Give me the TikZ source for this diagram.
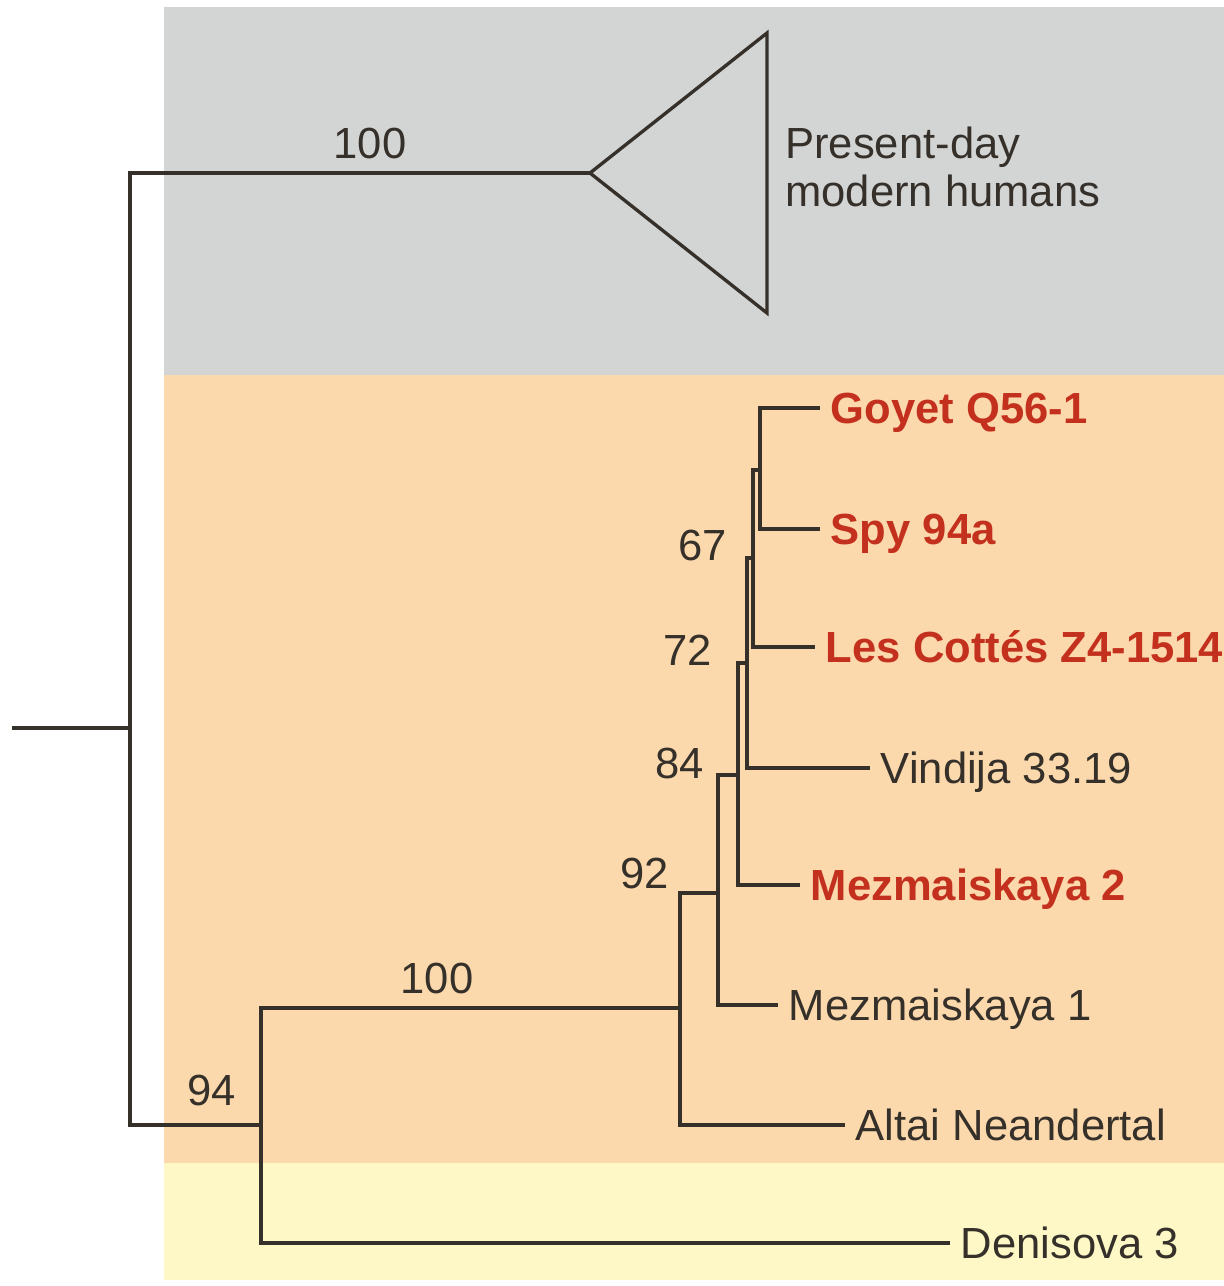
\documentclass[tikz,border=0pt]{standalone}
\usepackage{fontspec}
\setmainfont{Liberation Sans}
\usepackage{tikz}
\definecolor{humgray}{HTML}{D3D4D4}
\definecolor{neaorange}{HTML}{FCD9AC}
\definecolor{denyellow}{HTML}{FDF8C6}
\definecolor{redc}{HTML}{C4301E}
\definecolor{branchc}{HTML}{35302A}

\begin{document}
\begin{tikzpicture}[x=0.02cm, y=-0.02cm,
  branch/.style={branchc, line width=1.9pt},
  txt/.style={font=\fontsize{24.8}{27.2}\selectfont, text=branchc, inner ysep=0pt, text height=17.8pt, text depth=0pt},
  leaf/.style={txt, anchor=west, inner xsep=6pt},
  newleaf/.style={leaf, text=redc, font=\fontsize{24.8}{27.2}\selectfont\bfseries},
  boot/.style={txt, inner xsep=0pt}]
  \useasboundingbox (0,0) rectangle (1224,1286);
  % shaded groups
  \fill[humgray] (164,7) rectangle (1224,375);
  \fill[neaorange] (164,375) rectangle (1224,1163);
  \fill[denyellow] (164,1163) rectangle (1224,1280);

  % branch points
  \coordinate (stub) at (12,728);
  \coordinate (root) at (130,728);
  \coordinate (hum) at (590,173);
  \coordinate (humtop) at (767,33);
  \coordinate (humbot) at (767,313);
  \coordinate (n94) at (261,1125);
  \coordinate (n100) at (680,1008);
  \coordinate (n92) at (718,893);
  \coordinate (n84) at (738,775);
  \coordinate (n72) at (747,663);
  \coordinate (n67) at (753,558);
  \coordinate (ntop) at (760,470);

  % tips
  \node[txt, anchor=west, align=left, text height=, inner sep=0pt] (humans) at (785,167) {Present-day\\modern humans};
  \node[newleaf] (goyet) at (820,408) {Goyet Q56-1};
  \node[newleaf] (spy) at (820,529) {Spy 94a};
  \node[newleaf] (cottes) at (815,647) {Les Cottés Z4-1514};
  \node[leaf] (vindija) at (870,768) {Vindija 33.19};
  \node[newleaf] (mez2) at (800,885) {Mezmaiskaya 2};
  \node[leaf] (mez1) at (778,1005) {Mezmaiskaya 1};
  \node[leaf] (altai) at (845,1125) {Altai Neandertal};
  \node[leaf] (deni) at (950,1243) {Denisova 3};

  % bootstrap values
  \node[boot] (b100a) at (370,143) {100};
  \node[boot] (b94) at (212,1090) {94};
  \node[boot] (b100b) at (437,978) {100};
  \node[boot] (b92) at (645,873) {92};
  \node[boot] (b84) at (680,763) {84};
  \node[boot] (b72) at (688,650) {72};
  \node[boot] (b67) at (703,545) {67};

  % tree
  \draw[branch] (stub) -- (root);
  \draw[branch] (root) |- (hum);
  \draw[branch] (root) |- (n94);
  \draw[branch] (hum) -- (humtop) -- (humbot) -- cycle;
  \draw[branch] (n94) |- (deni.west);
  \draw[branch] (n94) |- (n100);
  \draw[branch] (n100) |- (altai.west);
  \draw[branch] (n100) |- (n92);
  \draw[branch] (n92) |- (mez1.west);
  \draw[branch] (n92) |- (n84);
  \draw[branch] (n84) |- (mez2.west);
  \draw[branch] (n84) |- (n72);
  \draw[branch] (n72) |- (vindija.west);
  \draw[branch] (n72) |- (n67);
  \draw[branch] (n67) |- (cottes.west);
  \draw[branch] (n67) |- (ntop);
  \draw[branch] (ntop) |- (goyet.west);
  \draw[branch] (ntop) |- (spy.west);
\end{tikzpicture}
\end{document}
